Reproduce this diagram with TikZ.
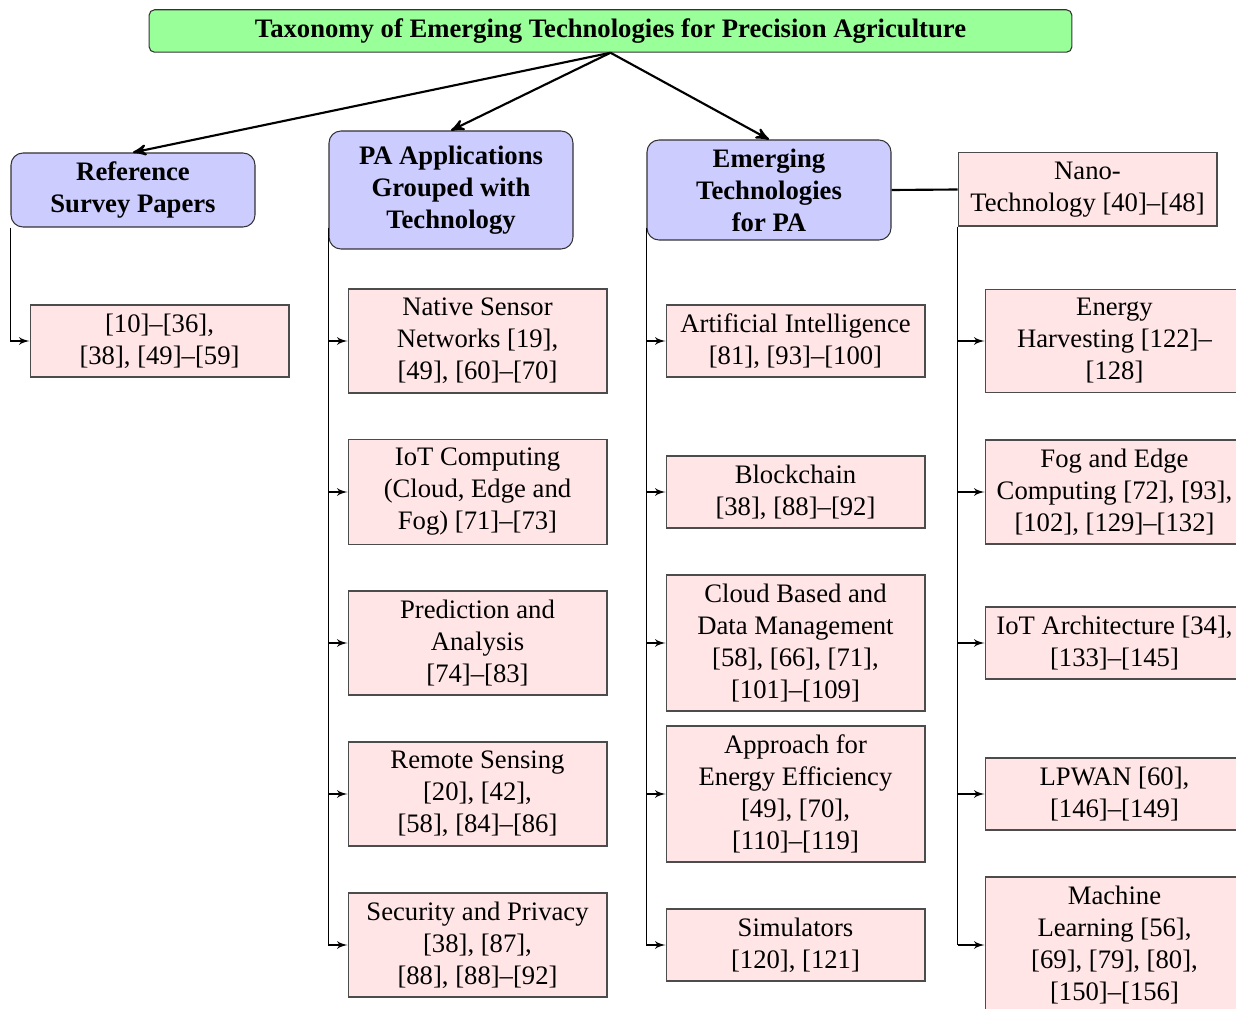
\documentclass[tikz,border=0pt]{standalone}
\usepackage{fontspec}
\setmainfont{Liberation Serif}
\usetikzlibrary{arrows,positioning}

\tikzset{
  rootbox/.style={draw=black!80, fill=green!40, rounded corners=2pt,
    minimum width=346pt, minimum height=15.75pt, font=\bfseries},
  groupbox/.style={draw=black!80, fill=blue!20, rounded corners=4.5pt,
    minimum width=91.5pt, align=center, font=\bfseries, inner sep=2pt},
  citebox/.style={draw=black!70, fill=red!10, minimum width=97.1pt,
    align=center, inner sep=2pt},
}

\begin{document}
\begin{tikzpicture}[x=0.375pt,y=-0.375pt,>=stealth',node distance=56.625pt]
\clip (0,0) rectangle (1236,1009);

          \node[rootbox] (root) at (610.5,31) {Taxonomy of Emerging Technologies for Precision Agriculture};

          \node[groupbox, minimum height=27.75pt] (ref) at (133,190) {Reference\\Survey Papers};
          \node[groupbox, minimum height=44.25pt] (pa) at (451,190) {PA Applications\\Grouped with\\Technology};
          \node[groupbox, minimum height=37.5pt] (emg) at (769,190) {Emerging\\Technologies\\for PA};
          \node[citebox, minimum height=27.4pt] (nano) at (1087.5,189.5) {Nano-\\Technology [40]--[48]};

          \node[citebox, minimum height=27pt] (refc) at (159.5,341) {[10]--[36],\\{}[38], [49]--[59]};

          % PA applications
          \node[citebox, minimum height=39pt] (pa1) at (477.5,341) {Native Sensor\\Networks [19],\\{}[49], [60]--[70]};
          \node[citebox, minimum height=39.5pt] (pa2) [below of=pa1] {IoT Computing\\(Cloud, Edge and\\Fog) [71]--[73]};
          \node[citebox, minimum height=39pt] (pa3) [below of=pa2] {Prediction and\\Analysis\\{}[74]--[83]};
          \node[citebox, minimum height=39pt] (pa4) [below of=pa3] {Remote Sensing\\{}[20], [42],\\{}[58], [84]--[86]};
          \node[citebox, minimum height=39pt] (pa5) [below of=pa4] {Security and Privacy\\{}[38], [87],\\{}[88], [88]--[92]};

          % emerging technologies
          \node[citebox, minimum height=27pt] (emg1) at (795.5,341) {Artificial Intelligence\\{}[81], [93]--[100]};
          \node[citebox, minimum height=27pt] (emg2) [below of=emg1] {Blockchain\\{}[38], [88]--[92]};
          \node[citebox, minimum height=51pt] (emg3) [below of=emg2] {Cloud Based and\\Data Management\\{}[58], [66], [71],\\{}[101]--[109]};
          \node[citebox, minimum height=51pt] (emg4) [below of=emg3] {Approach for\\Energy Efficiency\\{}[49], [70],\\{}[110]--[119]};
          \node[citebox, minimum height=27pt] (emg5) [below of=emg4] {Simulators\\{}[120], [121]};

          % nano technology
          \node[citebox, minimum height=38.5pt] (nt1) at (1114.5,341) {Energy\\Harvesting [122]--\\{}[128]};
          \node[citebox, minimum height=39pt] (nt2) [below of=nt1] {Fog and Edge\\Computing [72], [93],\\{}[102], [129]--[132]};
          \node[citebox, minimum height=27pt] (nt3) [below of=nt2] {IoT Architecture [34],\\{}[133]--[145]};
          \node[citebox, minimum height=27pt] (nt4) [below of=nt3] {LPWAN [60],\\{}[146]--[149]};
          \node[citebox, minimum height=51pt] (nt5) [below of=nt4] {Machine\\Learning [56],\\{}[69], [79], [80],\\{}[150]--[156]};

          \path[->, thick]
          (root.south) edge (ref.north)
          (root.south) edge (pa.north)
          (root.south) edge (emg.north)
          ;
          \draw[thick] (emg.east) -- (nano.west);

          \draw[-latex'] (ref.south west) |- (refc.west);

          \draw (pa.west |- ref.south) -- (pa.west |- pa5.west);
          \draw (emg.west |- ref.south) -- (emg.west |- emg5.west);
          \draw (nano.south west) -- (nano.south west |- nt5.west);
          \foreach \i in {1,...,5} {
            \draw[-latex'] (pa.west |- pa\i.west) -- (pa\i.west);
            \draw[-latex'] (emg.west |- emg\i.west) -- (emg\i.west);
            \draw[-latex'] (nano.south west |- nt\i.west) -- (nt\i.west);
          }
        \end{tikzpicture}
\end{document}
